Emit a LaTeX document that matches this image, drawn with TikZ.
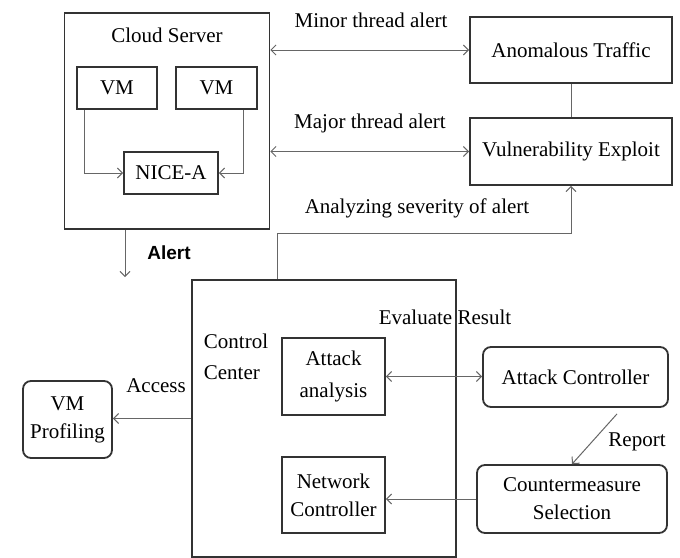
\documentclass[tikz,border=0pt]{standalone}
\usepackage{fontspec}
\setmainfont{Liberation Serif}
\newfontfamily\alertfont{Liberation Sans}
\usetikzlibrary{shapes, arrows.meta, positioning}
\tikzstyle{block}=[draw=black!80,line width=0.9pt,fill=white,rectangle,align=center,inner sep=2pt]
\tikzstyle{rblock}=[block,rounded corners=4pt]
\tikzstyle{frame}=[draw=black!80,line width=0.8pt,rectangle]
\tikzstyle{link}=[draw=black!60,line width=0.5pt]
\tikzstyle{every node}=[font=\fontsize{10.5}{14}\selectfont]

\begin{document}
\begin{tikzpicture}[x=0.5pt,y=-0.5pt,>={Straight Barb[length=2.5pt,width=5pt]}]
    \useasboundingbox (0,0) rectangle (680,557);
    % cloud server
    \node[frame, minimum width=102.5pt, minimum height=108pt] (cloud) at (167,121) {};
    \node (cloudt) at (167,35) {Cloud Server};
    \node[block, minimum width=40pt, minimum height=21pt] (vm1) at (117,88) {VM};
    \node[block, right of=vm1, node distance=49.75pt, minimum width=40.5pt, minimum height=21pt] (vm2) {VM};
    \node[block, minimum width=47pt, minimum height=21pt] (nice) at (171,173) {NICE-A};
    % alerts
    \node[block, minimum width=101pt, minimum height=33pt] (anom) at (571,50) {Anomalous Traffic};
    \node[block, below of=anom, node distance=50.75pt, minimum width=101pt, minimum height=33.5pt] (vuln) {Vulnerability Exploit};
    \node (minor) at (371,20) {Minor thread alert};
    \node (major) at (370,123) {Major thread alert};
    \node (sev) at (417,208) {Analyzing severity of alert};
    \node[font={\alertfont\bfseries\fontsize{9.5}{11}\selectfont}] (alert) at (169,253) {Alert};
    \coordinate (alertend) at (125,277);
    \coordinate (bend) at (277,233);
    % control center
    \node[frame, minimum width=132pt, minimum height=138.5pt] (ctrl) at (324,418.5) {};
    \node[align=left, font=\fontsize{10.5}{15.5}\selectfont] (ctrlt) at (236,357) {Control\\Center};
    \node[block, minimum width=51.5pt, minimum height=38.5pt, font=\fontsize{10.5}{16}\selectfont] (aa) at (333.5,376.5) {Attack\\analysis};
    \node[block, below of=aa, node distance=59.25pt, minimum width=51.5pt, minimum height=38pt] (nc) {Network\\Controller};
    \node (eval) at (445,317) {Evaluate Result};
    \node[rblock, minimum width=92.5pt, minimum height=30pt] (ac) at (575.5,377) {Attack Controller};
    \node[rblock, minimum width=95pt, minimum height=34pt] (cm) at (572,499) {Countermeasure\\Selection};
    \node (report) at (637,442) {Report};
    \node[rblock, minimum width=44.5pt, minimum height=38.5pt] (vmprof) at (67.5,419.5) {VM\\Profiling};
    \node (access) at (156,386) {Access};
    \draw[link,->] ([xshift=4pt]vm1.south west) |- (nice);
    \draw[link,->] ([xshift=-7pt]vm2.south east) |- (nice);
    \draw[link,<->] (anom.west -| cloud.east) -- (anom.west);
    \draw[link,<->] (vuln.west -| cloud.east) -- (vuln.west);
    \draw[link] (anom) -- (vuln);
    \draw[link,->] (cloud.south -| alertend) -- (alertend);
    \draw[link,->] (ctrl.north -| bend) -- (bend) -| (vuln.south);
    \draw[link,->] (ctrl.west) -- (ctrl.west -| vmprof.east);
    \draw[link,<->] (aa.east) -- (aa.east -| ac.west);
    \draw[link,->] ([shift={(20.75pt,-3pt)}]ac.south) -- (cm.north);
    \draw[link,->] (cm.west) -- (cm.west -| nc.east);
\end{tikzpicture}
\end{document}
